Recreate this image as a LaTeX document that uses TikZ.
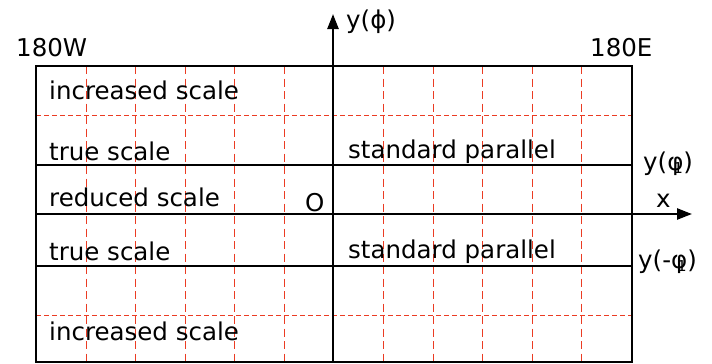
\documentclass[tikz,border=0pt]{standalone}
\usepackage{fontspec}
\setmainfont{DejaVu Sans}
\usetikzlibrary{arrows.meta}
\definecolor{gridred}{RGB}{235,60,35}
\begin{document}
\begin{tikzpicture}[x=1pt,y=-1pt,
  lbl/.style={anchor=base west,inner sep=0pt,font=\fontsize{24.5}{28}\selectfont},
  frame/.style={line width=2.4pt,black},
  vgrid/.style={gridred,line width=1.5pt,dash pattern=on 8pt off 4.5pt},
  hgrid/.style={gridred,line width=1.4pt,dash pattern=on 5pt off 3pt},
  axis/.style={line width=2.4pt,-{Triangle[length=15pt,width=11pt]}}]
\useasboundingbox (0,0) rectangle (712,364);
% grid
\foreach \gx in {86.5,135.5,185.5,234.5,284.5,383.5,433.5,482.5,532.5,581.5}{
  \draw[vgrid] (\gx,66) -- (\gx,362);
}
\draw[hgrid] (36,115.5) -- (632,115.5);
\draw[hgrid] (36,315.5) -- (632,315.5);
% frame and parallels
\draw[frame] (36,66) rectangle (632,362);
\draw[frame] (36,165) -- (632,165);
\draw[frame] (36,266) -- (632,266);
% axes
\coordinate (ybot) at (333,362);
\coordinate (ytop) at (333,14);
\coordinate (xleft) at (36,214);
\coordinate (xright) at (692,214);
\draw[axis] (ybot) -- (ytop);
\draw[axis] (xleft) -- (xright);
% labels
\node[lbl] (w) at (16,56) {180W};
\node[lbl] (e) at (590,56) {180E};
\node[lbl] (yphi) at (346,28.5) {y(ϕ)};
\node[lbl] (inc1) at (49,99) {increased scale};
\node[lbl] (true1) at (49,160) {true scale};
\node[lbl] (sp1) at (348,158) {standard parallel};
\node[lbl] (red) at (49,206) {reduced scale};
\node[lbl] (o) at (305,211) {O};
\node[lbl] (xl) at (656,207) {x};
\node[lbl] (true2) at (49,260) {true scale};
\node[lbl] (sp2) at (348,258) {standard parallel};
\node[lbl] (inc2) at (49,340.5) {increased scale};
\node[lbl] (yp1) at (643,170.5) {y(φ\llap{\raisebox{-0.12em}{\fontsize{15}{15}\selectfont 1}\kern0.02em})};
\node[lbl] (ym1) at (638,268.5) {y(-φ\llap{\raisebox{-0.12em}{\fontsize{15}{15}\selectfont 1}\kern0.02em})};
\end{tikzpicture}
\end{document}
